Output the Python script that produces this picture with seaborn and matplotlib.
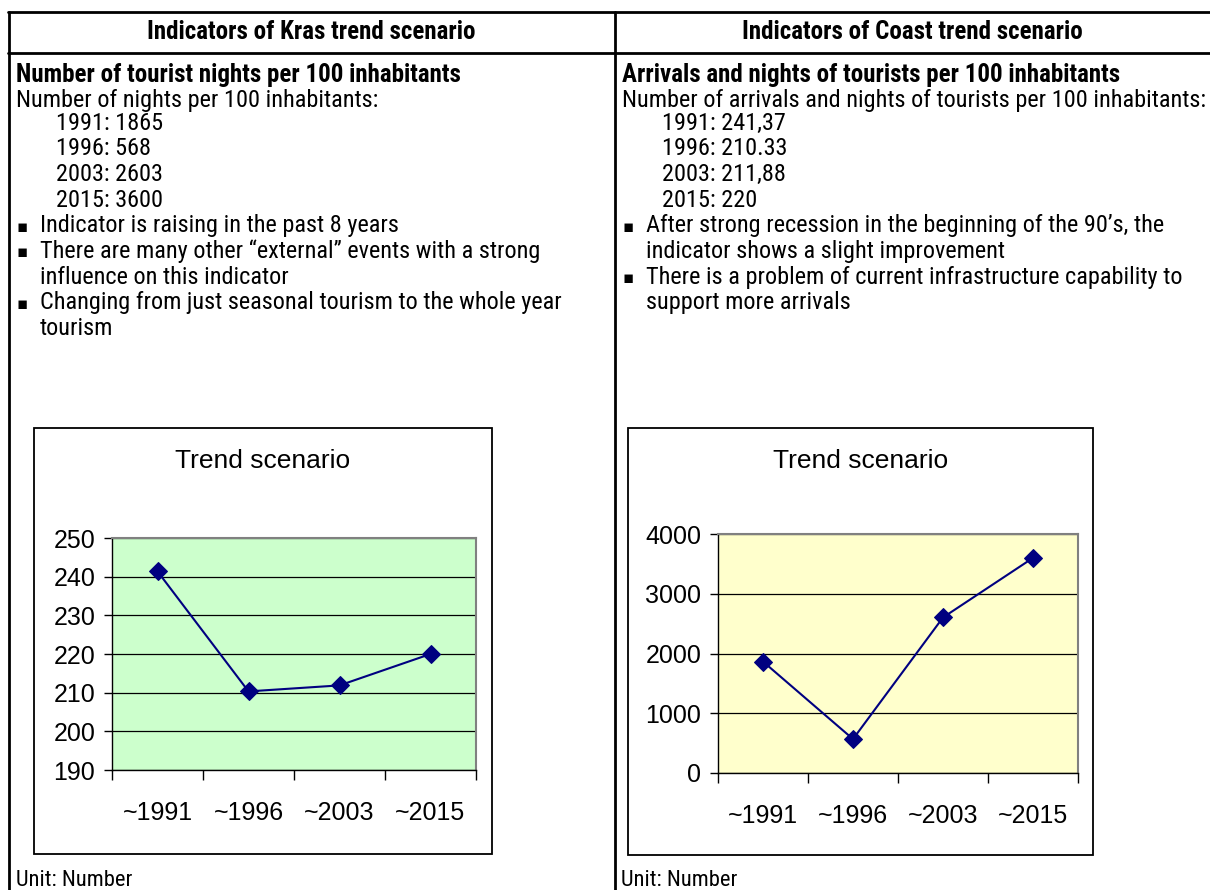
import matplotlib
matplotlib.use("Agg")
import matplotlib.pyplot as plt
from matplotlib.lines import Line2D
from matplotlib.patches import Rectangle
from matplotlib import font_manager
import seaborn as sns
import pandas as pd

# ---- data ----
periods = ["~1991", "~1996", "~2003", "~2015"]
kras_values = [241.37, 210.33, 211.88, 220.0]
coast_values = [1865, 568, 2603, 3600]

kras_ticks = [190, 200, 210, 220, 230, 240, 250]
coast_ticks = [0, 1000, 2000, 3000, 4000]

left_header = "Indicators of Kras trend scenario"
right_header = "Indicators of Coast trend scenario"
left_title = "Number of tourist nights per 100 inhabitants"
right_title = "Arrivals and nights of tourists per 100 inhabitants"
left_sub = "Number of nights per 100 inhabitants:"
right_sub = "Number of arrivals and nights of tourists per 100 inhabitants:"
left_years = ["1991: 1865", "1996: 568", "2003: 2603", "2015: 3600"]
right_years = ["1991: 241,37", "1996: 210.33", "2003: 211,88", "2015: 220"]
left_bullets = [
    ["Indicator is raising in the past 8 years"],
    ["There are many other \u201cexternal\u201d events with a strong",
     "influence on this indicator"],
    ["Changing from just seasonal tourism to the whole year",
     "tourism"],
]
right_bullets = [
    ["After strong recession in the beginning of the 90\u2019s, the",
     "indicator shows a slight improvement"],
    ["There is a problem of current infrastructure capability to",
     "support more arrivals"],
]
unit_label = "Unit: Number"
chart_title = "Trend scenario"

sns.set_theme(style="white")

# pick a narrow sans face for the table text if one is available
fonts = font_manager.fontManager.ttflist
names = {f.name for f in fonts}
narrow_family = None
narrow_stretch = "normal"
for cand in ["Liberation Sans Narrow", "Arial Narrow", "Roboto Condensed",
             "Open Sans Condensed", "Noto Sans Condensed", "DejaVu Sans Condensed"]:
    if cand in names:
        narrow_family = cand
        break
if narrow_family is None:
    for f in fonts:
        if str(f.stretch) in ("condensed", "semi-condensed", "extra-condensed") or \
                (isinstance(f.stretch, int) and f.stretch < 500):
            narrow_family = f.name
            narrow_stretch = "condensed"
            break
if narrow_family is None:
    narrow_family = "Liberation Sans" if "Liberation Sans" in names else "DejaVu Sans"
    scale = 0.86
else:
    scale = 1.0

chart_font = "Liberation Sans" if "Liberation Sans" in names else "DejaVu Sans"
plt.rcParams["font.family"] = [narrow_family, "DejaVu Sans"]
plt.rcParams["text.color"] = "black"

W, H = 1210, 890
fig = plt.figure(figsize=(W / 100, H / 100), dpi=100)
fig.patch.set_facecolor("white")


def fx(x):
    return x / W


def fy(y):
    return 1 - y / H


def hline(x0, x1, y, lw=2.0, color="black"):
    fig.add_artist(Line2D([fx(x0), fx(x1)], [fy(y), fy(y)], lw=lw, color=color))


def vline(x, y0, y1, lw=2.0, color="black"):
    fig.add_artist(Line2D([fx(x), fx(x)], [fy(y0), fy(y1)], lw=lw, color=color))


def txt(x, y, s, size=17.5, weight="normal", ha="left"):
    fig.text(fx(x), fy(y), s, fontsize=size * scale, fontweight=weight, ha=ha,
             va="center", family=[narrow_family, "DejaVu Sans"],
             fontstretch=narrow_stretch, color="black")


# ---- table grid ----
hline(8, W, 12)
hline(8, W, 53)
vline(9, 12, H)
vline(615, 12, H)

txt(311, 32, left_header, size=18, weight="bold", ha="center")
txt(912, 32, right_header, size=18, weight="bold", ha="center")


def column_text(x0, title, sub, years, bullets):
    txt(x0, 75, title, size=18, weight="bold")
    txt(x0, 100, sub)
    y = 123
    for line in years:
        txt(x0 + 40, y, line)
        y += 25.7
    for group in bullets:
        fig.text(fx(x0 + 1), fy(y + 1), "\u25aa", fontsize=12, ha="left", va="center",
                 family="DejaVu Sans", color="black")
        for line in group:
            txt(x0 + 24, y, line)
            y += 25.7


column_text(16, left_title, left_sub, left_years, left_bullets)
column_text(622, right_title, right_sub, right_years, right_bullets)

txt(16, 880, unit_label, size=16.2)
txt(621, 880, unit_label, size=16.2)


# ---- charts ----
def chart(box, plot, values, ticks, face):
    bx0, by0, bx1, by1 = box
    fig.add_artist(Rectangle((fx(bx0), fy(by1)), fx(bx1 - bx0), (by1 - by0) / H,
                             facecolor="white", edgecolor="black", lw=1.3,
                             transform=fig.transFigure, zorder=0))
    fig.text(fx((bx0 + bx1) / 2), fy(by0 + 33), chart_title, fontsize=19,
             family=chart_font, ha="center", va="center", color="black")
    px0, py0, px1, py1 = plot
    ax = fig.add_axes([fx(px0), fy(py1), fx(px1 - px0), (py1 - py0) / H])
    ax.set_facecolor(face)
    df = pd.DataFrame({"period": periods, "value": values})
    sns.lineplot(data=df, x="period", y="value", ax=ax, color="#000080", lw=1.5,
                 marker="D", markersize=9, markeredgecolor="#000080",
                 markerfacecolor="#000080", sort=False)
    ax.set_ylim(ticks[0], ticks[-1])
    ax.set_yticks(ticks)
    ax.set_xlim(-0.5, len(periods) - 0.5)
    ax.set_xticks(range(len(periods)))
    ax.set_xticklabels(periods)
    ax.set_xticks([i - 0.5 for i in range(len(periods) + 1)], minor=True)
    ax.tick_params(axis="x", which="major", length=0, pad=22, labelsize=18,
                   labelcolor="black")
    ax.tick_params(axis="x", which="minor", length=7, width=1, color="black",
                   direction="out", bottom=True)
    ax.tick_params(axis="y", length=6, width=1, color="black", direction="out",
                   left=True, labelsize=18, pad=6, labelcolor="black")
    for lab in ax.get_xticklabels() + ax.get_yticklabels():
        lab.set_family(chart_font)
    ax.set_xlabel("")
    ax.set_ylabel("")
    ax.grid(axis="y", color="black", lw=0.9)
    ax.grid(axis="x", visible=False)
    ax.set_axisbelow(True)
    for side in ["top", "right"]:
        ax.spines[side].set_color("#808080")
        ax.spines[side].set_linewidth(1.5)
    for side in ["left", "bottom"]:
        ax.spines[side].set_color("black")
        ax.spines[side].set_linewidth(1.0)
    return ax


chart((34, 428, 492, 854), (112, 538, 476, 770), kras_values, kras_ticks, "#CCFFCC")
chart((628, 428, 1093, 855), (718, 534, 1078, 773), coast_values, coast_ticks, "#FFFFCC")

fig.savefig("out.png", dpi=100, facecolor="white")
